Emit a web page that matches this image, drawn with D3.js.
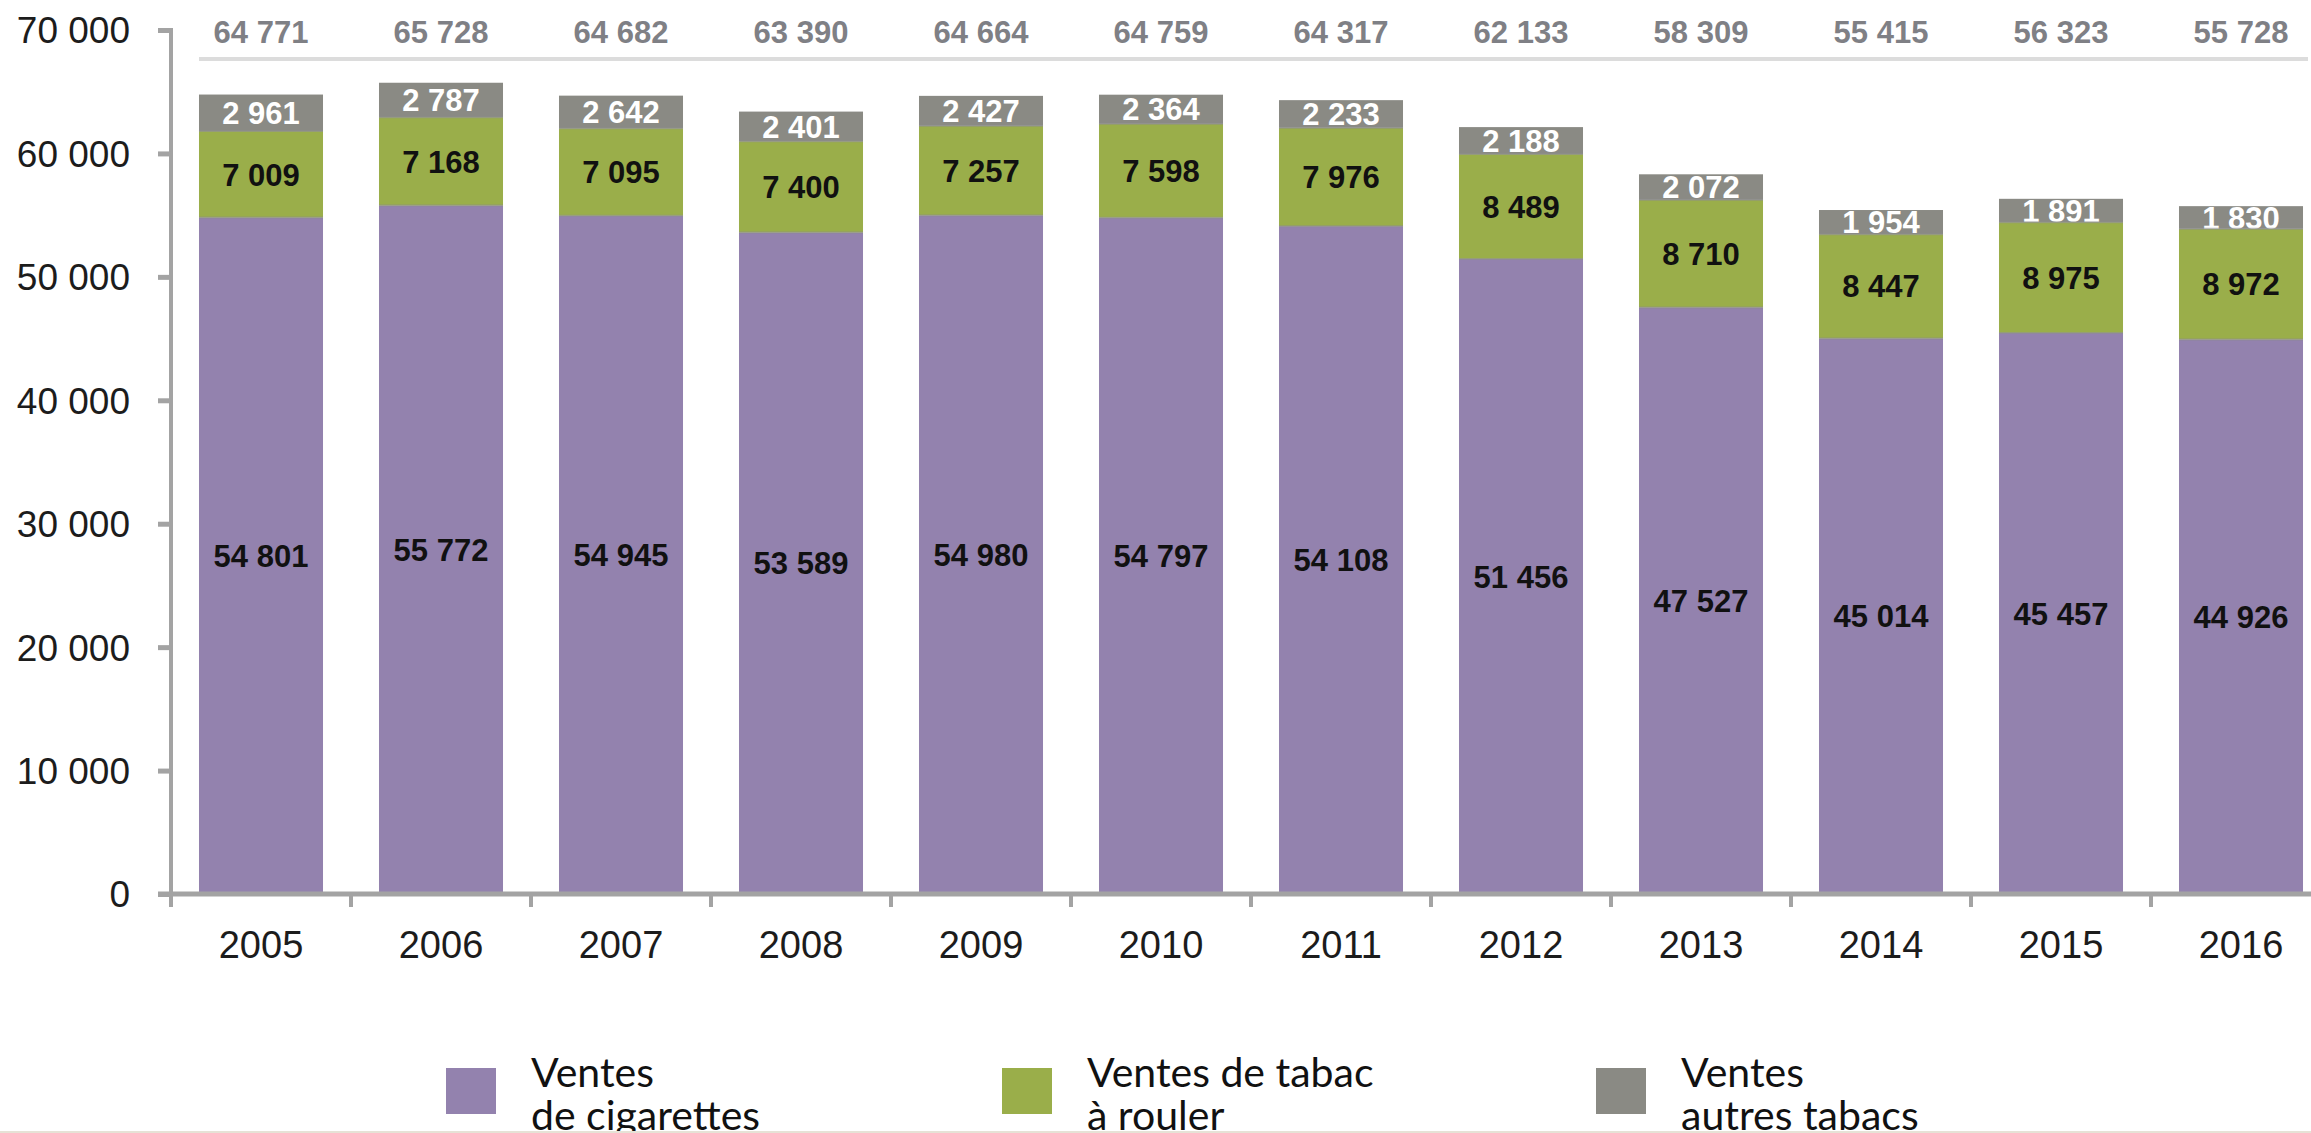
<!DOCTYPE html>
<html><head><meta charset="utf-8">
<script src="https://cdn.jsdelivr.net/npm/d3@7"></script>
<style>html,body{margin:0;padding:0;background:#fff;overflow:hidden}</style>
</head><body>
<svg id="chart" width="2311" height="1133"></svg>
<script>
const years = ["2005","2006","2007","2008","2009","2010","2011","2012","2013","2014","2015","2016"];
const cigarettes = [54801,55772,54945,53589,54980,54797,54108,51456,47527,45014,45457,44926];
const rouler = [7009,7168,7095,7400,7257,7598,7976,8489,8710,8447,8975,8972];
const autres = [2961,2787,2642,2401,2427,2364,2233,2188,2072,1954,1891,1830];
const totals = [64771,65728,64682,63390,64664,64759,64317,62133,58309,55415,56323,55728];
const yTicks = [0,10000,20000,30000,40000,50000,60000,70000];
const seriesNames = ["cigarettes","rouler","autres"];
const legendLines = [["Ventes","de cigarettes"],["Ventes de tabac","à rouler"],["Ventes","autres tabacs"]];

const colors = {cigarettes:"#9382ae", rouler:"#9aae4a", autres:"#8a8a84"};
const labelColors = {cigarettes:"#111", rouler:"#111", autres:"#fff"};

const fmt = d3.formatLocale({decimal:",", thousands:"\u00a0", grouping:[3], currency:["","€"]}).format(",d");

const svg = d3.select("#chart");
const x = d3.scaleBand().domain(years).range([171, 2331]).paddingInner(0.311).paddingOuter(0.1555);
const y = d3.scaleLinear().domain([0,70000]).range([894, 30]);

const rows = years.map((yr,i)=>({year:yr, cigarettes:cigarettes[i], rouler:rouler[i], autres:autres[i]}));
const stack = d3.stack().keys(seriesNames)(rows);

const font = "'Liberation Sans', Arial, sans-serif";

// bars
const g = svg.append("g");
stack.forEach(layer=>{
  const key = layer.key;
  g.selectAll(null).data(layer).join("rect")
    .attr("x", d=>x(d.data.year))
    .attr("width", x.bandwidth())
    .attr("y", d=>y(d[1]))
    .attr("height", d=>y(d[0])-y(d[1]))
    .attr("fill", colors[key]);
  g.selectAll(null).data(layer).join("text")
    .attr("x", d=>x(d.data.year)+x.bandwidth()/2)
    .attr("y", d=>(y(d[0])+y(d[1]))/2)
    .attr("dy","0.36em")
    .attr("text-anchor","middle")
    .attr("font-family", font).attr("font-weight","bold").attr("font-size", 31)
    .attr("fill", labelColors[key])
    .text(d=>fmt(d.data[key]));
});
// segment separators
stack.slice(0,2).forEach(layer=>{
  g.selectAll(null).data(layer).join("line")
    .attr("x1", d=>x(d.data.year)).attr("x2", d=>x(d.data.year)+x.bandwidth())
    .attr("y1", d=>y(d[1])).attr("y2", d=>y(d[1]))
    .attr("stroke","#8e8e8e").attr("stroke-opacity",0.6).attr("stroke-width",2);
});

// totals row
svg.append("line").attr("x1",199).attr("x2",2308).attr("y1",59).attr("y2",59)
  .attr("stroke","#dcdcdc").attr("stroke-width",4);
svg.append("g").selectAll("text").data(years).join("text")
  .attr("x", d=>x(d)+x.bandwidth()/2)
  .attr("y", 43)
  .attr("text-anchor","middle")
  .attr("font-family", font).attr("font-weight","bold").attr("font-size", 31)
  .attr("fill","#7f8085")
  .text((d,i)=>fmt(totals[i]));

// y axis
const yAxis = d3.axisLeft(y).tickValues(yTicks).tickSize(13).tickPadding(28).tickFormat(fmt);
const ya = svg.append("g").attr("transform","translate(171,0)").call(yAxis);
ya.select(".domain").attr("d","M0,28V907").attr("stroke","#a3a3a3").attr("stroke-width",4);
ya.selectAll(".tick line").attr("stroke","#a3a3a3").attr("stroke-width",5);
ya.selectAll(".tick text").attr("font-family",font).attr("font-size",37).attr("fill","#1c1c1c").attr("dy","0.35em");

// x axis
const xAxis = d3.axisBottom(x).tickSize(0).tickPadding(0);
const xa = svg.append("g").attr("transform","translate(0,894)").call(xAxis);
xa.select(".domain").attr("d","M158,0H2311").attr("stroke","#a3a3a3").attr("stroke-width",5);
xa.selectAll(".tick text").attr("font-family",font).attr("font-size",38).attr("fill","#1c1c1c")
  .attr("y",64).attr("dy",0);
// tick marks at band boundaries
const bounds = years.slice(1).map(yr=>x(yr)-x.step()*x.paddingInner()/2);
xa.selectAll(".bt").data(bounds).join("line").attr("class","bt")
  .attr("x1",d=>d).attr("x2",d=>d).attr("y1",0).attr("y2",13)
  .attr("stroke","#a3a3a3").attr("stroke-width",4);

// legend
const legendX = [446, 1002, 1596];
const lg = svg.append("g");
seriesNames.forEach((k,i)=>{
  lg.append("rect").attr("x",legendX[i]).attr("y",1068).attr("width",50).attr("height",46).attr("fill",colors[k]);
  const t = lg.append("text").attr("font-family","Lato, 'Open Sans', sans-serif").attr("font-size",41).attr("fill","#111");
  legendLines[i].forEach((ln,j)=>{
    t.append("tspan").attr("x",legendX[i]+85).attr("y",1087+j*43).text(ln);
  });
});
svg.append("line").attr("x1",0).attr("x2",2311).attr("y1",1132).attr("y2",1132).attr("stroke","#e6e2d6").attr("stroke-width",2);
</script>
</body></html>
